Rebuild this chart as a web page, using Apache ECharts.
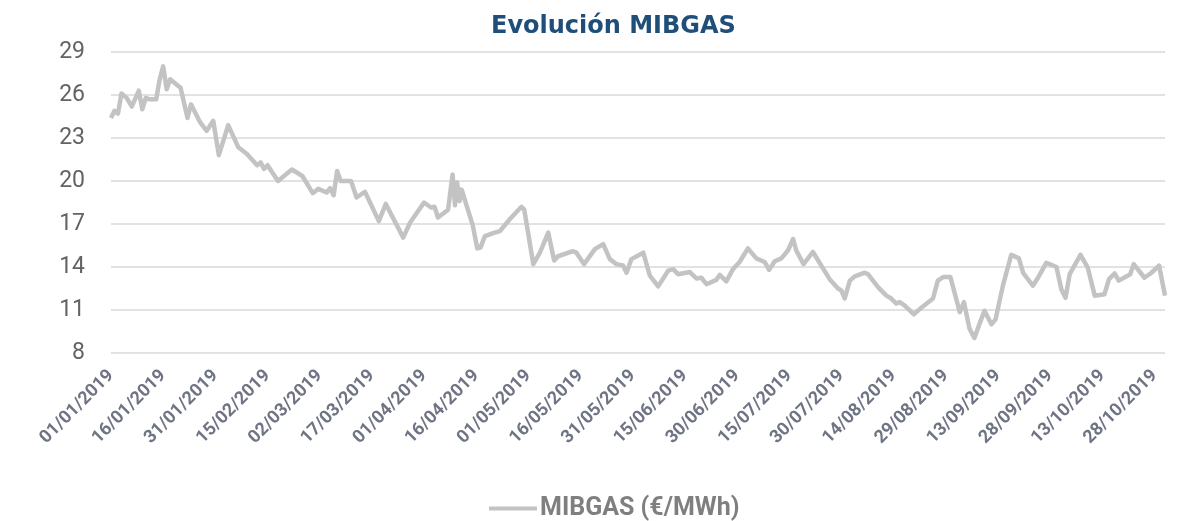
<!DOCTYPE html>
<html>
<head>
<meta charset="utf-8">
<script src="https://cdn.jsdelivr.net/npm/echarts@6/dist/echarts.min.js"></script>
<style>
  html, body { margin: 0; padding: 0; background: #fff; }
  #main { width: 1179px; height: 521px; }
</style>
</head>
<body>
<div id="main"></div>
<script>
// days counted from 01/01/2019
const days = [
  0, 1, 2, 3, 4.5, 6, 8, 9, 10, 11, 13, 14, 15, 16, 17, 19, 20, 22, 23, 25.6,
  27.5, 29.4, 31, 33.7, 36.6, 39, 42, 43, 44, 45, 48, 52, 55, 58, 59.6, 62, 63, 64, 65, 66,
  69, 70.6, 73, 77, 79, 84, 86, 90, 92, 93, 94, 96.9, 98.2, 98.9, 99.5, 100.2, 100.8, 104, 105.3, 106.2,
  107.5, 110.3, 111.8, 114.7, 118, 118.8, 121.4, 123.3, 125.7, 127.4, 128.5, 132.8, 133.8, 136, 139.1, 141.5, 143.4, 145.3, 147.2, 148.2,
  149.6, 153, 154.9, 157.3, 160.2, 161.6, 163, 166.4, 168.3, 169.7, 171.2, 174, 175, 176.9, 178.8, 180.7, 183.1, 185.5, 187.9, 189.2,
  190.8, 192.7, 194.6, 196.1, 197, 199.1, 201.8, 204.2, 206.6, 209, 210, 210.9, 212.4, 213.8, 216.7, 217.6, 220.5, 222.9, 224.3, 225.8,
  226.7, 228.2, 230.8, 233.4, 236.3, 237.7, 239.2, 241.3, 244, 245.2, 246.8, 248.2, 249.7, 251.1, 253.1, 254.3, 256.4, 258.8, 261, 262.2,
  265, 266.5, 268.9, 271.8, 273.2, 274.4, 275.6, 278.7, 280.8, 282.8, 285.6, 286.9, 288.5, 289.7, 293, 294, 297.1, 299.1, 301.3, 303
];
const prices = [
  24.4, 24.9, 24.7, 26.1, 25.8, 25.2, 26.3, 25.0, 25.8, 25.7, 25.7, 27.1, 28.0, 26.4, 27.1, 26.7, 26.5, 24.4, 25.35, 24.1,
  23.5, 24.2, 21.8, 23.9, 22.35, 21.9, 21.1, 21.3, 20.85, 21.1, 20.0, 20.8, 20.35, 19.15, 19.45, 19.2, 19.5, 19.0, 20.7, 20.0,
  20.0, 18.85, 19.25, 17.2, 18.4, 16.05, 17.1, 18.5, 18.15, 18.2, 17.45, 18.0, 20.45, 18.3, 19.9, 18.6, 19.4, 16.9, 15.3, 15.35,
  16.15, 16.4, 16.5, 17.35, 18.2, 18.0, 14.2, 15.0, 16.4, 14.45, 14.75, 15.1, 15.0, 14.2, 15.25, 15.6, 14.55, 14.2, 14.1, 13.6,
  14.55, 15.0, 13.4, 12.65, 13.75, 13.85, 13.5, 13.65, 13.2, 13.25, 12.8, 13.1, 13.45, 13.0, 13.85, 14.35, 15.3, 14.6, 14.35, 13.8,
  14.4, 14.6, 15.15, 15.95, 15.15, 14.2, 15.05, 14.1, 13.15, 12.5, 12.35, 11.8, 13.05, 13.35, 13.6, 13.5, 12.6, 12.0, 11.8, 11.45,
  11.55, 11.3, 10.7, 11.25, 11.8, 13.05, 13.3, 13.3, 10.85, 11.55, 9.7, 9.05, 10.05, 10.95, 10.0, 10.35, 12.7, 14.85, 14.6, 13.6,
  12.7, 13.25, 14.3, 14.0, 12.45, 11.85, 13.5, 14.85, 13.95, 12.0, 12.1, 13.15, 13.55, 13.05, 13.5, 14.2, 13.25, 13.6, 14.1, 12.0
];
const yTicks = [8, 11, 14, 17, 20, 23, 26, 29];

const pad = (n) => (n < 10 ? "0" + n : "" + n);
const dayLabel = (d) => {
  const dt = new Date(Date.UTC(2019, 0, 1 + Math.round(d)));
  return pad(dt.getUTCDate()) + "/" + pad(dt.getUTCMonth() + 1) + "/" + dt.getUTCFullYear();
};

const chart = echarts.init(document.getElementById("main"));

const option = {
  animation: false,
  title: {
    text: "Evolución MIBGAS",
    left: 486,
    top: 10,
    textStyle: {
      color: "#1f4e79",
      fontSize: 24,
      fontWeight: "bold",
      fontFamily: "DejaVu Sans",
    },
  },
  legend: {
    top: 491,
    left: 484,
    icon: "rect",
    itemWidth: 48,
    itemHeight: 4,
    itemGap: 4,
    data: ["MIBGAS (€/MWh)"],
    textStyle: {
      color: "#7f7f7f",
      fontSize: 25,
      fontWeight: "bold",
      fontFamily: "Roboto",
      padding: [0, 0, 0, -2],
    },
  },
  grid: {
    left: 111,
    right: 14,
    top: 52,
    bottom: 168,
  },
  xAxis: {
    type: "value",
    min: 0,
    max: 303,
    interval: 15,
    axisLine: { show: false },
    axisTick: { show: false },
    splitLine: { show: false },
    axisLabel: {
      rotate: 45,
      margin: 20,
      showMaxLabel: false,
      color: "#6e7483",
      fontSize: 18,
      fontWeight: "bold",
      fontFamily: "Roboto",
      formatter: (v) => dayLabel(v),
    },
  },
  yAxis: {
    type: "value",
    min: yTicks[0],
    max: yTicks[yTicks.length - 1],
    interval: 3,
    axisLine: { show: false },
    axisTick: { show: false },
    splitLine: { lineStyle: { color: "#d9d9d9", width: 1.5 } },
    axisLabel: {
      color: "#636363",
      fontSize: 23,
      margin: 26,
      fontFamily: "Roboto",
    },
  },
  series: [
    {
      name: "MIBGAS (€/MWh)",
      type: "line",
      showSymbol: false,
      data: days.map((d, i) => [d, prices[i]]),
      lineStyle: { color: "#c3c3c3", width: 4.5, join: "round" },
      itemStyle: { color: "#c3c3c3" },
    },
  ],
};

chart.setOption(option);
</script>
</body>
</html>
